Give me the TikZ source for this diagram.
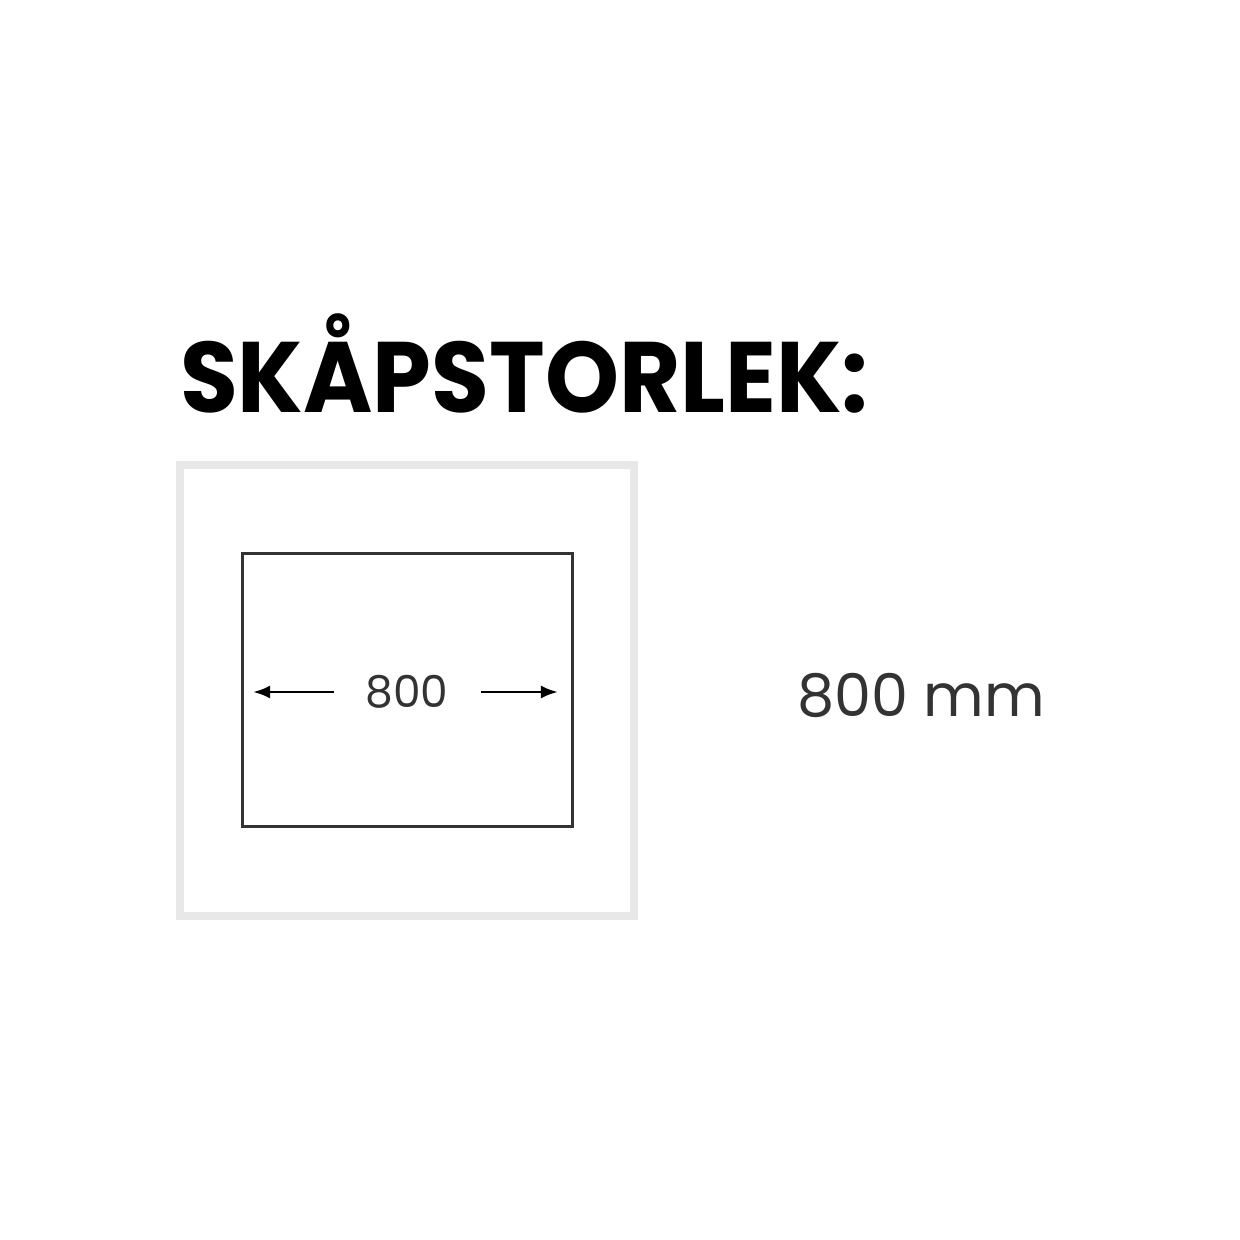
\documentclass[tikz,border=0pt]{standalone}
\usepackage{fontspec}
\usepackage{xcolor}
\usetikzlibrary{arrows.meta}
\newfontfamily\titlefont{Poppins}[UprightFont=*-Bold]
\newfontfamily\dimfont{Poppins}
\definecolor{framegray}{HTML}{E8E8E8}
\definecolor{inkgray}{HTML}{333333}
\tikzstyle{every node}=[inner sep=0pt, outer sep=0pt]
\tikzstyle{frame} = [rectangle, draw=framegray, line width=0.16cm, minimum width=9.08cm, minimum height=9.02cm]
\tikzstyle{cabinet} = [rectangle, draw=inkgray, line width=0.06cm, minimum width=6.6cm, minimum height=5.46cm]
\tikzstyle{dim} = [font=\dimfont\fontsize{25}{30}\selectfont, text=inkgray]
\tikzstyle{line} = [draw=black, line width=0.055cm, -{Latex[length=0.34cm,width=0.26cm]}]

\begin{document}
\begin{tikzpicture}[x=0.02cm, y=-0.02cm]
    \useasboundingbox (0,0) rectangle (1240,1240);
    % Place nodes
    \node [anchor=base west, font=\titlefont\fontsize{57}{60}\selectfont] (title) at (180,412) {\scalebox{0.94}[1]{SKÅPSTORLEK:}};
    \node [frame] (frame) at (407,690.5) {};
    \node [cabinet] (cab) at (407.5,690) {};
    \node [dim] (width) at (407,692) {800};
    \node [dim, font=\dimfont\fontsize{33.5}{40}\selectfont, anchor=west] (size) at (797,695) {800 mm};
    % Draw edges
    \path [line] ([xshift=-0.64cm]width.west) -- ([xshift=0.21cm]cab.west |- width.west);
    \path [line] ([xshift=0.66cm]width.east) -- ([xshift=-0.29cm]cab.east |- width.east);
\end{tikzpicture}
\end{document}
